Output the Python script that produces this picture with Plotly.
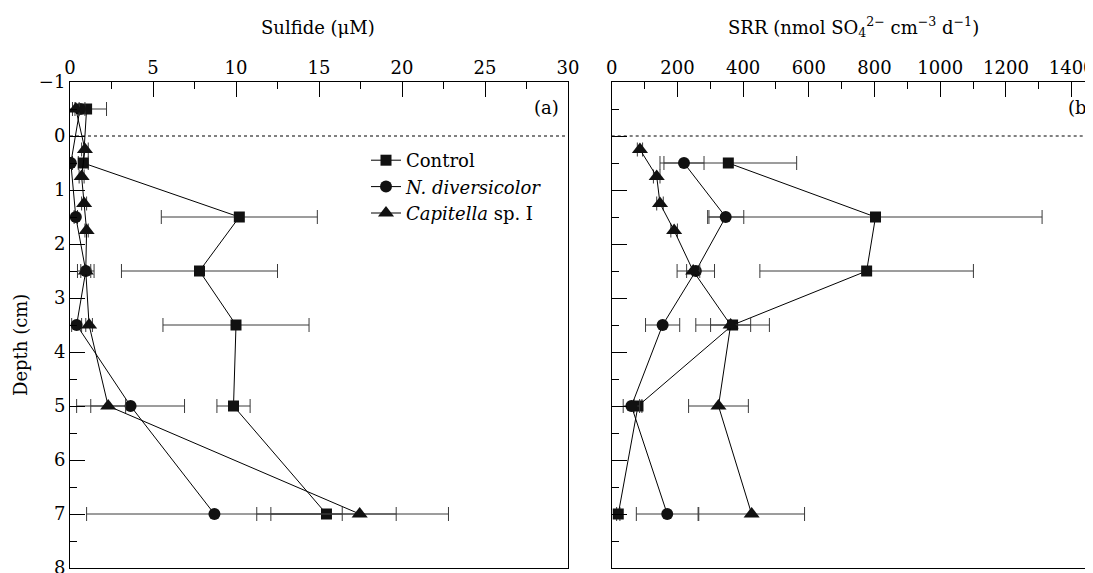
import plotly.graph_objects as go

# ---------------- data ----------------
depth_sulf = [-0.5, 0.5, 1.5, 2.5, 3.5, 5, 7]
sulf_ctrl = [1.0, 0.8, 10.2, 7.8, 10.0, 9.85, 15.45]
sulf_ctrl_err = [1.2, 0.3, 4.7, 4.7, 4.4, 1.0, 4.2]
sulf_nd = [0.6, 0.05, 0.35, 0.95, 0.4, 3.65, 8.7]
sulf_nd_err = [0.3, 0.1, 0.1, 0.5, 0.3, 3.25, 7.7]
depth_sulf_cap = [-0.5, 0.25, 0.75, 1.25, 1.75, 2.5, 3.5, 5, 7]
sulf_cap = [0.35, 0.9, 0.7, 0.85, 1.0, 0.95, 1.15, 2.3, 17.45]
sulf_cap_err = [0.2, 0.2, 0.15, 0.15, 0.1, 0.3, 0.2, 1.05, 5.35]

depth_srr = [0.5, 1.5, 2.5, 3.5, 5, 7]
srr_ctrl = [355, 803, 776, 368, 80, 20]
srr_ctrl_err = [208, 507, 325, 112, 12, 5]
srr_nd = [220, 347, 256, 155, 60, 169]
srr_nd_err = [61, 55, 57, 52, 25, 94]
depth_srr_cap = [0.25, 0.75, 1.25, 1.75, 2.5, 3.5, 5, 7]
srr_cap = [86, 137, 147, 190, 248, 362, 325, 426]
srr_cap_err = [8, 10, 10, 10, 20, 61, 91, 161]

series_names = ["Control", "<i>N. diversicolor</i>", "<i>Capitella</i> sp. I"]
symbols = ["square", "circle", "triangle-up"]
sizes = [11, 12, 14]

FONT = "DejaVu Serif"
W, H = 1093, 573
OFF = 8            # page body margin offset (figure px = screen px - OFF)
T = 82 - OFF       # plot top at screen row 82
B = H - (568 - OFF)  # plot bottom at screen row 568
PH = H - T - B


def sx(pix):
    """paper x for a screen column"""
    return (pix - OFF) / W


def sy(pix):
    """paper y for a screen row"""
    return (H - B - (pix - OFF)) / PH


fig = go.Figure()


def add(x, y, err, i, xa, ya, legend):
    fig.add_trace(go.Scatter(
        x=x, y=y, xaxis=xa, yaxis=ya, mode="lines+markers",
        name=series_names[i], showlegend=legend,
        line=dict(color="black", width=1),
        marker=dict(symbol=symbols[i], size=sizes[i], color="#111111"),
        error_x=dict(type="data", array=err, visible=True, color="#3a3a3a",
                     thickness=1, width=7),
    ))


add(sulf_ctrl, depth_sulf, sulf_ctrl_err, 0, "x", "y", True)
add(sulf_nd, depth_sulf, sulf_nd_err, 1, "x", "y", True)
add(sulf_cap, depth_sulf_cap, sulf_cap_err, 2, "x", "y", True)
add(srr_ctrl, depth_srr, srr_ctrl_err, 0, "x2", "y2", False)
add(srr_nd, depth_srr, srr_nd_err, 1, "x2", "y2", False)
add(srr_cap, depth_srr_cap, srr_cap_err, 2, "x2", "y2", False)

axis_font = dict(family=FONT, size=18, color="black")

left_dom = [sx(70), sx(568)]
right_dom = [sx(611.7), sx(1093)]

xcommon = dict(side="top", ticks="inside", ticklen=15, tickcolor="black",
               showline=True, linecolor="black", linewidth=1, mirror=True,
               showgrid=False, zeroline=False, tickfont=axis_font,
               ticklabeloverflow="allow", automargin=False)
ycommon = dict(domain=[0, 1], range=[8, -1], dtick=1,
               ticks="inside", ticklen=15, tickcolor="black",
               minor=dict(dtick=0.5, ticks="inside", ticklen=7, tickcolor="black"),
               showline=True, linecolor="black", linewidth=1,
               showgrid=False, zeroline=False, automargin=False)
fig.update_layout(
    template="none",
    xaxis=dict(domain=left_dom, range=[0, 30], dtick=5, anchor="y",
               minor=dict(dtick=2.5, ticks="inside", ticklen=7, tickcolor="black"),
               **xcommon),
    xaxis2=dict(domain=right_dom, range=[0, 1465], dtick=200, anchor="y2",
                minor=dict(dtick=100, ticks="inside", ticklen=7, tickcolor="black"),
                **xcommon),
    yaxis=dict(anchor="x", mirror=True, tickfont=axis_font, **ycommon),
    yaxis2=dict(anchor="x2", mirror=False, showticklabels=False, **ycommon),
    width=W, height=H,
    margin=dict(l=0, r=0, t=T, b=B, pad=0),
    paper_bgcolor="white", plot_bgcolor="white",
    font=dict(family=FONT, size=18, color="black"),
    legend=dict(x=sx(366), y=sy(142), xanchor="left", yanchor="top",
                bgcolor="rgba(0,0,0,0)", font=dict(family=FONT, size=18),
                itemwidth=30, tracegroupgap=0),
)

# surface (depth 0) dotted reference lines
for xr, yr in (("x domain", "y"), ("x2 domain", "y2")):
    fig.add_shape(type="line", xref=xr, yref=yr, x0=0, x1=1, y0=0, y1=0,
                  line=dict(color="black", width=1, dash="dot"))

# panel labels
fig.add_annotation(text="(a)", xref="x domain", yref="y domain", x=0.985, y=0.947,
                   xanchor="right", yanchor="middle", showarrow=False,
                   font=dict(family=FONT, size=18))
fig.add_annotation(text="(b)", xref="x2 domain", yref="y2 domain", x=0.944, y=0.947,
                   xanchor="left", yanchor="middle", showarrow=False,
                   font=dict(family=FONT, size=18))

# axis titles
fig.add_annotation(text="Sulfide (μM)", xref="paper", yref="paper",
                   x=sx(318), y=sy(27), xanchor="center", yanchor="middle",
                   showarrow=False, font=dict(family=FONT, size=18))
fig.add_annotation(text="SRR (nmol SO<sub>4</sub><sup>2−</sup> cm<sup>−3</sup> d<sup>−1</sup>)",
                   xref="paper", yref="paper",
                   x=sx(853), y=sy(27), xanchor="center", yanchor="middle",
                   showarrow=False, font=dict(family=FONT, size=18))
fig.add_annotation(text="Depth (cm)", xref="paper", yref="paper",
                   x=sx(20), y=sy(345), xanchor="center", yanchor="middle",
                   textangle=-90, showarrow=False, font=dict(family=FONT, size=18))

fig.write_html("out.html")
